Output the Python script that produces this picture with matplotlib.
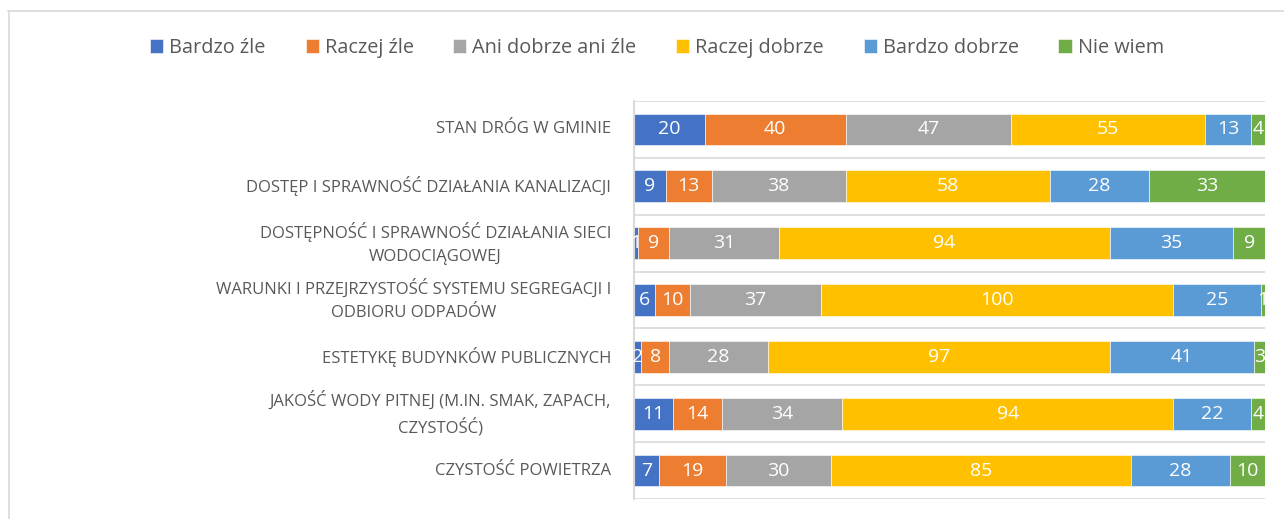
import matplotlib
matplotlib.use("Agg")
import matplotlib.pyplot as plt
import numpy as np

plt.rcParams['font.family'] = ['Open Sans', 'DejaVu Sans']

categories = [
    "STAN DRÓG W GMINIE",
    "DOSTĘP I SPRAWNOŚĆ DZIAŁANIA KANALIZACJI",
    "DOSTĘPNOŚĆ I SPRAWNOŚĆ DZIAŁANIA SIECI\nWODOCIĄGOWEJ",
    "WARUNKI I PRZEJRZYSTOŚĆ SYSTEMU SEGREGACJI I\nODBIORU ODPADÓW",
    "ESTETYKĘ BUDYNKÓW PUBLICZNYCH",
    "JAKOŚĆ WODY PITNEJ (M.IN. SMAK, ZAPACH,\nCZYSTOŚĆ)",
    "CZYSTOŚĆ POWIETRZA",
]
series_names = ["Bardzo źle", "Raczej źle", "Ani dobrze ani źle",
                "Raczej dobrze", "Bardzo dobrze", "Nie wiem"]
bardzo_zle = [20, 9, 1, 6, 2, 11, 7]
raczej_zle = [40, 13, 9, 10, 8, 14, 19]
ani_ani = [47, 38, 31, 37, 28, 34, 30]
raczej_dobrze = [55, 58, 94, 100, 97, 94, 85]
bardzo_dobrze = [13, 28, 35, 25, 41, 22, 28]
nie_wiem = [4, 33, 9, 1, 3, 4, 10]

colors = ["#4472C4", "#ED7D31", "#A5A5A5", "#FFC000", "#5B9BD5", "#70AD47"]
grid_col = "#d9d9d9"
text_col = "#595959"

series = [bardzo_zle, raczej_zle, ani_ani, raczej_dobrze, bardzo_dobrze, nie_wiem]

W, H = 1284, 519
fig = plt.figure(figsize=(W / 100, H / 100), dpi=100)
ax = fig.add_axes([634 / W, 1 - 499 / H, 631 / W, 398 / H])

y = np.arange(len(categories))
left = np.zeros(len(categories))
for name, vals, col in zip(series_names, series, colors):
    vals = np.array(vals, dtype=float)
    ax.barh(y, vals, left=left, height=0.56, color=col, label=name,
            edgecolor="white", linewidth=0.4, zorder=2)
    for yi, l, v in zip(y, left, vals):
        ax.text(l + v / 2, yi, "%d" % v, ha="center", va="center",
                color="white", fontsize=14, zorder=4, clip_on=False)
    left += vals

ax.set_xlim(0, left.max())
ax.set_ylim(len(categories) - 0.5, -0.5)

# gridlines between categories
for b in np.arange(-0.5, len(categories) + 0.5, 1):
    ax.axhline(b, color=grid_col, lw=1.2, zorder=1)

for s in ["top", "right", "bottom"]:
    ax.spines[s].set_visible(False)
ax.spines["left"].set_color(grid_col)
ax.spines["left"].set_linewidth(1.5)
ax.set_xticks([])
ax.set_yticks(y)
ax.set_yticklabels(categories, fontsize=12, color=text_col)
ax.tick_params(axis="y", length=0, pad=16.5)
for t in ax.get_yticklabels():
    t.set_multialignment("center")
    t.set_verticalalignment("center")
    t.set_linespacing(1.6)

leg = fig.legend(loc="center", bbox_to_anchor=(657 / W, 1 - 48 / H), ncol=6,
                 frameon=False, fontsize=14.3, handlelength=0.66, handleheight=0.66,
                 handletextpad=0.3, columnspacing=2.0, labelcolor=text_col)

# chart area border (only top and left visible)
fig.add_artist(plt.Line2D([8.5 / W, 8.5 / W], [0, 1 - 11 / H], transform=fig.transFigure,
                          color=grid_col, lw=1.2))
fig.add_artist(plt.Line2D([8 / W, 1], [1 - 11 / H, 1 - 11 / H], transform=fig.transFigure,
                          color=grid_col, lw=1.2))

fig.savefig("out.png", dpi=100)
